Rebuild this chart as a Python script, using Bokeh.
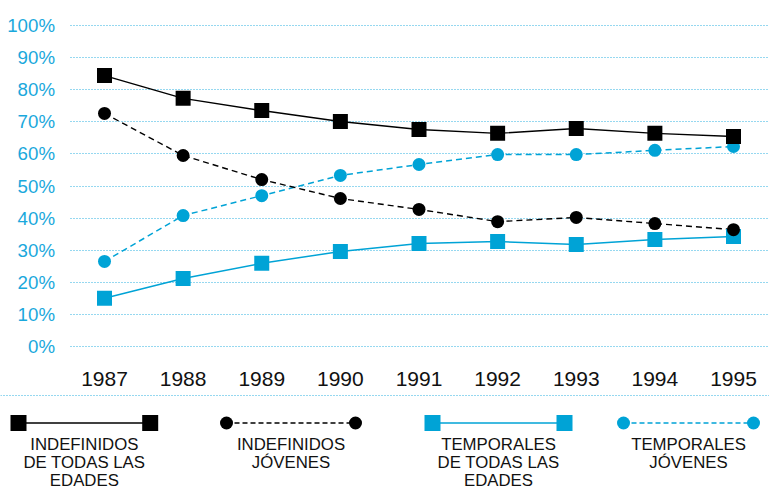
from bokeh.plotting import figure
from bokeh.layouts import column
from bokeh.models import FixedTicker, LinearAxis
from bokeh.core.properties import value
from bokeh.embed import file_html
from bokeh.resources import INLINE

years = [1987, 1988, 1989, 1990, 1991, 1992, 1993, 1994, 1995]
indef_todas = [84.4, 77.3, 73.5, 70.1, 67.6, 66.4, 67.9, 66.4, 65.4]
indef_jovenes = [72.6, 59.5, 52.0, 46.1, 42.7, 38.9, 40.2, 38.3, 36.4]
temp_todas = [15.0, 21.2, 25.9, 29.6, 32.1, 32.7, 31.8, 33.3, 34.3]
temp_jovenes = [26.5, 40.8, 47.0, 53.3, 56.7, 59.8, 59.8, 61.1, 62.3]
y_ticks = [0, 10, 20, 30, 40, 50, 60, 70, 80, 90, 100]
legend_labels = ["INDEFINIDOS\nDE TODAS LAS\nEDADES", "INDEFINIDOS\nJÓVENES",
                 "TEMPORALES\nDE TODAS LAS\nEDADES", "TEMPORALES\nJÓVENES"]

BLACK = "#000000"
BLUE = "#00a3d6"
TICK_BLUE = "#1aa8dc"
GRID_BLUE = "#2cb0e0"
FONT = "Liberation Sans"

# layout in pixels
W = 769
TOP_H = 392
FRAME_TOP, FRAME_BOT = 16, 356
PX_FIRST, PX_LAST = 104.0, 733.0      # pixel x of first / last year
PX_GRID_LEFT = 69.5
PX_Y0, PX_Y100 = 346.0, 25.0

px_per_year = (PX_LAST - PX_FIRST) / (years[-1] - years[0])
x_start = years[0] - PX_FIRST / px_per_year
x_end = years[-1] + (W - PX_LAST) / px_per_year
x_grid_left = years[0] - (PX_FIRST - PX_GRID_LEFT) / px_per_year
px_per_unit = (PX_Y0 - PX_Y100) / 100.0
y_end = 100 + (PX_Y100 - FRAME_TOP) / px_per_unit
y_start = -(FRAME_BOT - PX_Y0) / px_per_unit

p = figure(width=W, height=TOP_H, output_backend="svg", toolbar_location=None,
           x_range=(x_start, x_end), y_range=(y_start, y_end),
           y_axis_location=None,
           min_border_left=0, min_border_right=0,
           min_border_top=FRAME_TOP, min_border_bottom=TOP_H - FRAME_BOT)
p.outline_line_color = None
p.background_fill_color = "white"
p.border_fill_color = "white"

yax = LinearAxis(ticker=FixedTicker(ticks=y_ticks), fixed_location=x_grid_left)
yax.major_label_overrides = {t: f"{t}%" for t in y_ticks}
yax.axis_line_color = None
yax.major_tick_line_color = None
yax.minor_tick_line_color = None
yax.major_label_text_color = TICK_BLUE
yax.major_label_text_font = FONT
yax.major_label_text_font_size = "18.7px"
yax.major_label_standoff = 9
p.add_layout(yax, "left")

p.xaxis.ticker = FixedTicker(ticks=years)
p.xaxis.axis_line_color = None
p.xaxis.major_tick_line_color = None
p.xaxis.minor_tick_line_color = None
p.xaxis.major_label_text_color = "#111111"
p.xaxis.major_label_text_font = FONT
p.xaxis.major_label_text_font_size = "21px"
p.xaxis.major_label_standoff = 9

p.xgrid.grid_line_color = None
p.ygrid.ticker = FixedTicker(ticks=y_ticks)
p.ygrid.grid_line_color = GRID_BLUE
p.ygrid.grid_line_dash = "1 2"
p.ygrid.grid_line_width = 1.2
p.ygrid.cross_bounds = (x_grid_left, x_end)

# series
p.line(years, temp_todas, line_color=BLUE, line_width=1.5)
p.line(years, temp_jovenes, line_color=BLUE, line_width=1.5, line_dash="6 4")
p.line(years, indef_todas, line_color=BLACK, line_width=1.4)
p.line(years, indef_jovenes, line_color=BLACK, line_width=1.4, line_dash="6 4")
p.scatter(years, temp_todas, marker="square", size=15, fill_color=BLUE, line_color=None)
p.scatter(years, temp_jovenes, marker="circle", size=13, fill_color=BLUE, line_color=None)
p.scatter(years, indef_todas, marker="square", size=15, fill_color=BLACK, line_color=None)
p.scatter(years, indef_jovenes, marker="circle", size=13, fill_color=BLACK, line_color=None)

# legend figure (pixel coordinates of the page)
lg = figure(width=W, height=490 - TOP_H, output_backend="svg", toolbar_location=None,
            x_range=(0, W), y_range=(490, TOP_H), min_border=0,
            x_axis_location=None, y_axis_location=None)
lg.outline_line_color = None
lg.grid.visible = False
lg.border_fill_color = "white"

lg.line([0, W], [395, 395], line_color=GRID_BLUE, line_width=1.2, line_dash="1 2")

starts = [18, 226, 432, 623]
ends = [149.7, 355, 564, 753]
colors = [BLACK, BLACK, BLUE, BLUE]
dashes = ["solid", "5 3", "solid", "5 3"]
markers = ["square", "circle", "square", "circle"]
sizes = [16, 13, 16, 13]
for i in range(4):
    lg.line([starts[i], ends[i]], [422.5, 422.5], line_color=colors[i], line_width=1.5,
            line_dash=dashes[i])
    lg.scatter([starts[i], ends[i]], [422.5, 422.5], marker=markers[i], size=sizes[i],
               fill_color=colors[i], line_color=None)
    cx = (starts[i] + ends[i]) / 2
    for j, line in enumerate(legend_labels[i].split("\n")):
        lg.text([cx], [444 + j * 18.2], text=[line], text_align="center",
                text_baseline="middle", text_font_size="16.8px",
                text_color="#111111", text_font=value(FONT))

layout = column(p, lg, spacing=0)
open("out.html", "w").write(file_html(layout, INLINE))
